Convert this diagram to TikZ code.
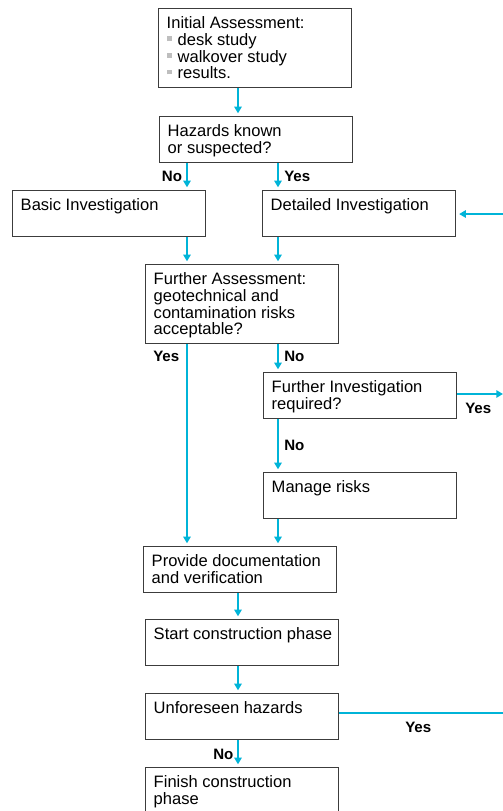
\documentclass[tikz,border=0pt]{standalone}
\usepackage{fontspec}
\setmainfont{Liberation Sans}
\usetikzlibrary{arrows.meta}
\definecolor{flowcyan}{RGB}{0,180,216}
\definecolor{boxline}{RGB}{60,60,60}
\definecolor{bulletgray}{RGB}{190,190,190}
\newcommand{\bx}[2]{\parbox[c][#1][t]{144.75pt}{\raggedright\leftskip=6pt\relax #2}}
\newcommand{\blt}{{\color{bulletgray}\rule[3.2pt]{3.6pt}{3.6pt}}\hspace{4.6pt}}
\begin{document}
\begin{tikzpicture}[x=0.75pt,y=-0.75pt,
  box/.style={draw=boxline, line width=1.1pt, inner xsep=0pt, inner ysep=6pt, anchor=north west, font=\fontsize{12.4pt}{12.5pt}\selectfont},
  lbl/.style={font=\fontsize{11.3pt}{12pt}\selectfont\bfseries, anchor=base west, inner sep=0pt},
  arr/.style={draw=flowcyan, line width=1.5pt, -{Triangle[length=5pt,width=5.5pt]}, shorten >=2pt},
  ln/.style={draw=flowcyan, line width=1.5pt}]
\useasboundingbox (0,0) rectangle (503,811);
\clip (0,0) rectangle (503,811);
\fill[white] (0,0) rectangle (503,811);
% columns and free ends
\coordinate (cL) at (187,0);
\coordinate (cM) at (238,0);
\coordinate (cR) at (278,0);
\coordinate (eA) at (503,214);
\coordinate (eB) at (503,394);
\coordinate (eC) at (503,713);
% boxes
\node[box] (b1) at (158,8) {\bx{47.25pt}{Initial Assessment:\\ \blt desk study\\ \blt walkover study\\ \blt results.}};
\node[box] (b2) at (159,116) {\bx{22.5pt}{Hazards known\\ or suspected?}};
\node[box] (b3) at (12,190) {\bx{22.5pt}{Basic Investigation}};
\node[box] (b4) at (262,190) {\bx{22.5pt}{Detailed Investigation}};
\node[box] (b5) at (145,264) {\bx{47.25pt}{Further Assessment:\\ geotechnical and\\ contamination risks\\ acceptable?}};
\node[box] (b6) at (263,372) {\bx{22.5pt}{Further Investigation\\ required?}};
\node[box] (b7) at (263,472) {\bx{22.5pt}{Manage risks}};
\node[box] (b8) at (143,546) {\bx{22.5pt}{Provide documentation\\ and verification}};
\node[box] (b9) at (145,619) {\bx{22.5pt}{Start construction phase}};
\node[box] (b10) at (145,693) {\bx{22.5pt}{Unforeseen hazards}};
\node[box] (b11) at (145,767) {\bx{47.25pt}{Finish construction\\ phase}};
% connectors
\draw[arr] (b1.south -| cM) -- (b2.north -| cM);
\draw[arr] (b2.south -| cL) -- (b3.north -| cL);
\draw[arr] (b2.south -| cR) -- (b4.north -| cR);
\draw[arr] (b3.south -| cL) -- (b5.north -| cL);
\draw[arr] (b4.south -| cR) -- (b5.north -| cR);
\draw[arr] (eA) -- (b4.east |- eA);
\draw[arr] (b5.south -| cL) -- (b8.north -| cL);
\draw[arr] (b5.south -| cR) -- (b6.north -| cR);
\draw[arr, shorten >=0pt] (b6.east |- eB) -- (eB);
\draw[arr] (b6.south -| cR) -- (b7.north -| cR);
\draw[arr] (b7.south -| cR) -- (b8.north -| cR);
\draw[arr] (b8.south -| cM) -- (b9.north -| cM);
\draw[arr] (b9.south -| cM) -- (b10.north -| cM);
\draw[ln] (b10.east |- eC) -- (eC);
\draw[arr] (b10.south -| cM) -- (b11.north -| cM);
% labels
\node[lbl] (l1) at (161.7,181.5) {No};
\node[lbl] (l2) at (284,181.5) {Yes};
\node[lbl] (l3) at (153,361.5) {Yes};
\node[lbl] (l4) at (284,361.5) {No};
\node[lbl] (l5) at (465,413) {Yes};
\node[lbl] (l6) at (284,450) {No};
\node[lbl] (l7) at (405,732) {Yes};
\node[lbl] (l8) at (213,759) {No};
\end{tikzpicture}
\end{document}
